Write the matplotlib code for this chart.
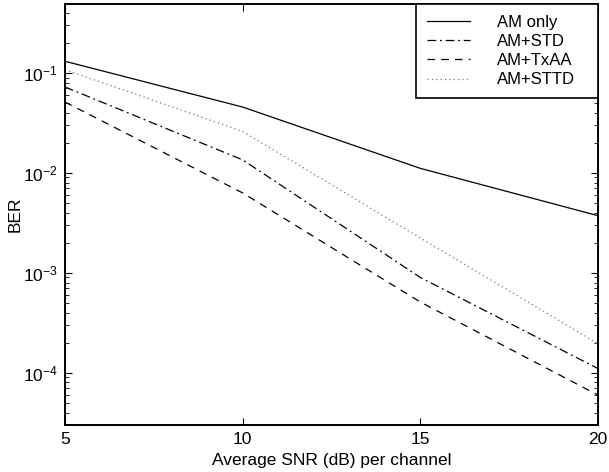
import numpy as np
import matplotlib.pyplot as plt

plt.rcParams['font.family'] = ['Liberation Sans', 'DejaVu Sans']

snr = [5, 10, 15, 20]
ber_am = [0.131, 0.0456, 0.0111, 0.00373]
ber_std = [0.0724, 0.0135, 8.98e-4, 1.1e-4]
ber_txaa = [0.0512, 0.0063, 5.1e-4, 5.97e-5]
ber_sttd = [0.108, 0.026, 2.23e-3, 1.95e-4]

fig = plt.figure(figsize=(6.09, 4.72), dpi=100)
ax = fig.add_axes([0.1067, 0.0996, 0.8753, 0.8919])

ax.semilogy(snr, ber_am, '-', color='k', lw=0.9, label='AM only')
ax.semilogy(snr, ber_std, color='k', lw=0.9, dashes=(7, 3, 1.5, 3), label='AM+STD')
ax.semilogy(snr, ber_txaa, color='k', lw=0.9, dashes=(6, 5), label='AM+TxAA')
ax.semilogy(snr, ber_sttd, color='#777777', lw=0.9, dashes=(1, 2.5), label='AM+STTD')

ax.set_xlim(5, 20)
ax.set_ylim(3e-5, 0.49)
ax.set_xticks([5, 10, 15, 20])
ax.tick_params(which='both', direction='in', top=True, right=True, labelsize=12.5)
ax.tick_params(which='major', length=5)
ax.tick_params(which='minor', length=3)
ax.tick_params(axis='x', pad=5)
ax.tick_params(axis='y', pad=5)
for s in ax.spines.values():
    s.set_linewidth(1.4)

ax.set_xlabel('Average SNR (dB) per channel', fontsize=12.5)
ax.xaxis.set_label_coords(0.5, -0.066)
ax.set_ylabel('BER', fontsize=12.5)
ax.yaxis.set_label_coords(-0.08, 0.5)

leg = ax.legend(loc='upper left', bbox_to_anchor=(0.6585, 0, 0.3415, 1), mode='expand',
                fontsize=12, handlelength=2.6, handletextpad=1.6,
                borderaxespad=0, borderpad=0.65, labelspacing=0.25, fancybox=False,
                framealpha=1, edgecolor='k')
leg.get_frame().set_linewidth(1.2)

fig.savefig('out.png', dpi=100)
